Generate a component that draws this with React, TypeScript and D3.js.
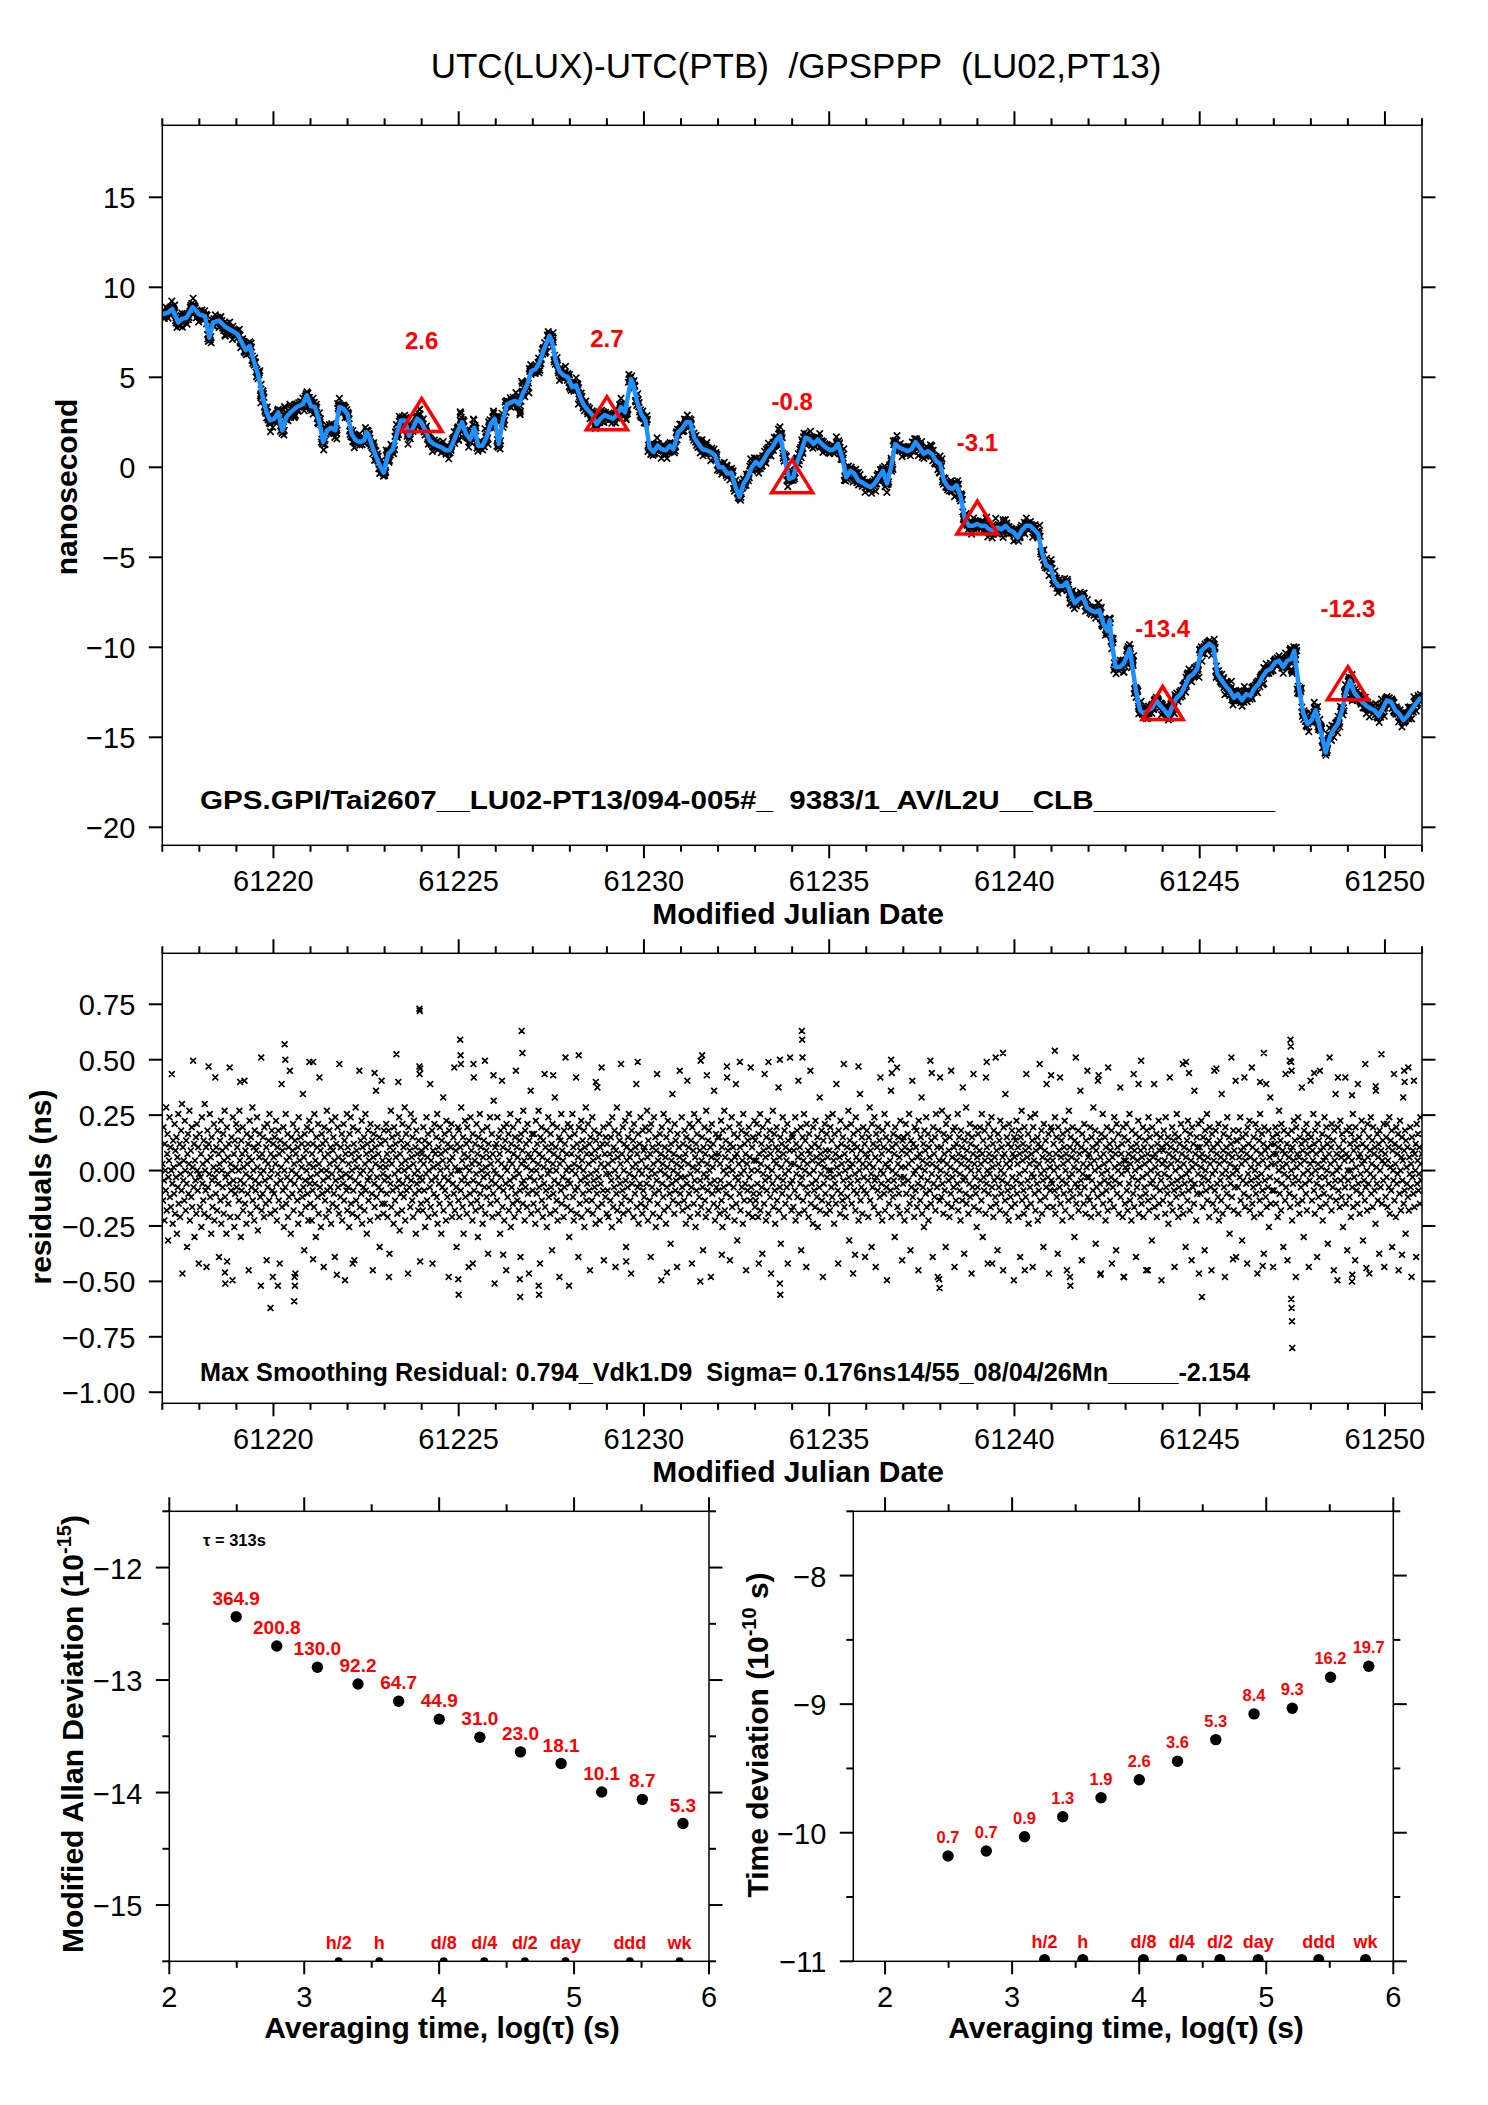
import { useMemo } from 'react';
import * as d3 from 'd3';

const FONT = '"Liberation Sans", Arial, Helvetica, sans-serif';
const MJD_START = 61217;
const MJD_END = 61251;

// smoothed offset: [days after MJD 61217, ns]
const SMOOTH: [number, number][] = [
  [0.00, 8.5], [0.16, 8.6], [0.27, 8.8], [0.43, 8.05], [0.54, 8.25], [0.65, 8.3], [0.82, 8.9], [0.99, 8.5],
  [1.15, 8.4], [1.27, 7.2], [1.37, 8.05], [1.53, 8.15], [1.70, 7.8], [1.87, 7.6], [2.03, 7.4], [2.14, 6.95],
  [2.25, 6.5], [2.36, 6.75], [2.47, 5.9], [2.58, 5.2], [2.69, 4.1], [2.80, 3.15], [2.91, 2.6], [3.02, 2.7],
  [3.13, 3.05], [3.24, 2.05], [3.35, 2.8], [3.46, 3.05], [3.63, 3.35], [3.79, 3.5], [3.90, 4.0], [4.01, 3.4],
  [4.12, 3.35], [4.23, 2.6], [4.34, 1.4], [4.45, 2.05], [4.56, 2.2], [4.67, 2.05], [4.78, 3.35], [4.89, 3.25],
  [5.00, 2.95], [5.11, 1.85], [5.22, 1.5], [5.33, 1.4], [5.45, 1.5], [5.51, 1.95], [5.56, 1.85], [5.66, 1.2],
  [5.78, 0.55], [5.89, 0.0], [5.98, -0.3], [6.10, 0.75], [6.22, 1.0], [6.33, 1.85], [6.44, 2.6], [6.55, 2.6],
  [6.66, 1.75], [6.77, 2.2], [6.88, 2.7], [6.99, 2.5], [7.10, 2.05], [7.21, 1.5], [7.32, 1.3], [7.43, 1.2],
  [7.54, 1.1], [7.65, 0.95], [7.76, 0.95], [7.87, 1.5], [7.98, 2.05], [8.09, 2.5], [8.20, 1.85], [8.31, 1.55],
  [8.42, 2.2], [8.53, 1.2], [8.64, 1.2], [8.75, 1.65], [8.86, 2.4], [8.97, 2.7], [9.08, 1.3], [9.19, 2.6],
  [9.30, 3.5], [9.41, 3.6], [9.52, 3.7], [9.63, 3.5], [9.74, 4.15], [9.85, 4.6], [9.96, 5.35], [10.07, 5.45],
  [10.18, 5.8], [10.29, 6.5], [10.45, 7.3], [10.51, 7.05], [10.62, 5.9], [10.73, 5.3], [10.84, 5.1], [10.95, 5.0],
  [11.06, 4.45], [11.17, 4.55], [11.28, 3.9], [11.39, 3.4], [11.50, 3.15], [11.61, 2.9], [11.72, 2.4], [11.83, 2.7],
  [11.94, 2.9], [12.05, 2.8], [12.16, 2.7], [12.27, 2.9], [12.38, 3.35], [12.49, 3.05], [12.65, 4.9], [12.71, 4.6],
  [12.82, 3.6], [12.93, 2.95], [13.04, 2.6], [13.15, 1.1], [13.26, 0.85], [13.37, 1.2], [13.48, 1.0], [13.59, 0.95],
  [13.70, 1.2], [13.80, 1.0], [13.92, 1.95], [14.03, 2.15], [14.14, 2.5], [14.25, 2.5], [14.36, 1.65], [14.47, 1.3],
  [14.58, 1.0], [14.69, 0.95], [14.80, 0.85], [14.92, 0.65], [15.02, 0.0], [15.13, 0.0], [15.25, -0.35], [15.36, -0.3],
  [15.47, -1.1], [15.58, -1.65], [15.69, -0.9], [15.80, -0.55], [15.91, 0.0], [16.02, 0.3], [16.13, 0.1], [16.24, 0.45],
  [16.35, 0.85], [16.46, 1.1], [16.57, 1.5], [16.68, 1.75], [16.79, 0.55], [16.92, -0.65], [17.03, -0.55], [17.14, 0.35],
  [17.25, 0.9], [17.36, 1.65], [17.47, 1.55], [17.58, 1.3], [17.69, 1.55], [17.80, 1.3], [17.91, 1.1], [18.02, 0.95],
  [18.13, 1.0], [18.24, 1.3], [18.35, 0.55], [18.46, -0.55], [18.57, -0.2], [18.68, -0.35], [18.79, -0.75], [18.90, -0.85],
  [19.01, -1.0], [19.12, -1.1], [19.23, -0.9], [19.34, -0.55], [19.45, -0.2], [19.56, -0.9], [19.67, 0.0], [19.78, 1.3],
  [19.89, 1.1], [20.00, 1.0], [20.11, 0.9], [20.22, 1.0], [20.33, 1.4], [20.44, 1.1], [20.55, 0.75], [20.66, 0.9],
  [20.77, 0.75], [20.88, 0.35], [20.99, 0.2], [21.10, -0.75], [21.21, -1.1], [21.33, -1.2], [21.44, -1.0], [21.55, -1.65],
  [21.66, -2.85], [21.77, -3.25], [21.88, -3.25], [21.99, -3.15], [22.10, -3.25], [22.21, -3.25], [22.32, -3.45], [22.43, -3.5],
  [22.54, -3.35], [22.65, -3.45], [22.76, -3.25], [22.87, -3.5], [22.98, -3.6], [23.09, -3.9], [23.20, -3.5], [23.31, -3.25],
  [23.42, -3.25], [23.53, -3.45], [23.64, -3.7], [23.75, -4.8], [23.86, -5.45], [23.97, -5.55], [24.08, -6.3], [24.19, -6.6],
  [24.30, -6.6], [24.41, -6.4], [24.52, -7.05], [24.63, -7.55], [24.74, -7.3], [24.85, -7.2], [24.96, -7.8], [25.07, -7.95],
  [25.18, -8.05], [25.29, -7.95], [25.40, -8.7], [25.51, -9.1], [25.57, -8.5], [25.62, -9.65], [25.73, -11.1], [25.84, -11.1],
  [25.95, -10.9], [26.11, -10.1], [26.17, -10.9], [26.28, -12.4], [26.39, -13.5], [26.50, -13.7], [26.61, -13.5], [26.72, -13.35],
  [26.83, -12.95], [26.94, -13.25], [27.05, -13.5], [27.16, -13.8], [27.27, -13.25], [27.38, -12.8], [27.49, -12.6], [27.60, -12.15],
  [27.71, -11.65], [27.82, -11.5], [27.93, -11.2], [28.04, -10.2], [28.15, -10.0], [28.26, -9.8], [28.37, -10.0], [28.48, -11.5],
  [28.60, -11.85], [28.70, -12.15], [28.81, -12.4], [28.92, -12.8], [29.03, -12.6], [29.14, -12.95], [29.25, -12.6], [29.37, -12.7],
  [29.47, -12.3], [29.59, -12.05], [29.69, -11.65], [29.81, -11.3], [29.92, -11.2], [30.03, -10.85], [30.14, -10.75], [30.25, -11.1],
  [30.36, -10.75], [30.47, -10.65], [30.55, -10.2], [30.69, -12.4], [30.80, -13.7], [30.91, -14.25], [31.02, -14.05], [31.13, -13.5],
  [31.24, -14.45], [31.35, -15.35], [31.40, -15.85], [31.51, -15.0], [31.62, -14.55], [31.73, -14.25], [31.84, -13.5], [31.95, -12.5],
  [32.06, -11.85], [32.17, -12.5], [32.28, -12.8], [32.39, -13.05], [32.50, -13.25], [32.61, -13.4], [32.72, -13.5], [32.83, -13.8],
  [32.94, -13.4], [33.05, -12.95], [33.17, -13.05], [33.28, -13.5], [33.39, -13.7], [33.50, -14.05], [33.61, -13.8], [33.71, -13.5],
  [33.83, -13.15], [33.94, -12.85], [34.00, -12.9],
];

// residuals, one line per day, evenly sampled; each code is residual / RESIDUAL_UNIT + 50
const RESIDUAL_UNIT = 0.015; // ns
const RESIDUAL_CODES = [
  '52 41 63 47 35 58 50 44 69 38 55 61 29 48 53 66 42 57 39 50 79 46 34 59 51 43 64 37 56 48 60 31 54 45 67 40 52 58 36 49 62 44 70 19 57 47 53 41 65 50 38 59 46 27 55 61 43 52 68 35 49 56 42 63 39 51 83 45 58 30 53 47 60 37 64 50 44 57 22 49',
  '61 39 48 55 33 66 46 52 41 59 37 70 50 44 57 21 53 62 45 36 58 49 67 42 54 31 60 47 39 56 51 64 35 48 78 43 57 50 38 62 46 55 24 52 59 41 65 34 50 56 45 61 37 53 68 42 48 57 31 63 49 54 40 58 46 81 36 52 44 60 50 17 66 47 55 33 59 43 51 64',
  '45 57 36 62 50 41 68 53 47 30 59 44 55 63 38 51 46 77 40 56 49 34 61 52 43 58 20 54 65 48 37 60 45 53 69 41 50 57 35 62 47 44 56 39 66 51 32 58 46 54 61 42 49 84 38 55 43 60 50 36 63 47 53 40 57 23 64 45 52 59 41 67 48 37 55 50 62 44 18 58',
  '54 43 60 38 52 65 46 35 57 49 62 41 55 22 59 47 51 76 39 56 44 63 33 50 58 45 67 40 53 48 61 36 57 42 54 80 47 31 60 50 43 56 64 38 52 46 59 19 55 49 62 41 57 34 66 48 53 44 60 37 51 58 42 73 45 54 26 61 47 39 56 50 63 43 58 35 52 65 46 40',
  '48 62 35 55 44 58 51 39 67 46 53 30 60 49 57 42 64 37 52 78 45 56 33 50 61 43 58 47 21 63 54 41 59 36 50 68 44 55 48 38 62 52 45 57 34 65 49 40 56 60 43 53 24 66 47 58 39 51 63 45 54 37 82 50 42 57 48 61 35 53 46 64 41 59 17 55 49 44 67 38',
  '57 45 52 33 61 48 66 40 55 50 37 63 44 58 23 53 47 69 41 56 51 36 62 46 54 80 39 49 59 43 65 34 57 50 45 60 38 52 67 44 55 31 58 47 62 41 53 48 35 64 50 56 43 59 20 54 61 46 39 57 52 74 42 48 63 36 55 45 60 27 51 58 44 77 40 53 49 37 62 47',
  '40 59 51 64 43 55 36 48 62 53 25 57 46 68 39 52 60 44 56 34 63 49 41 58 54 85 45 37 61 50 47 66 32 55 43 59 52 38 64 46 57 42 50 69 35 53 61 44 48 58 19 63 51 45 56 39 67 47 54 41 60 36 52 65 49 43 57 31 62 46 55 50 38 59 44 79 48 53 40 56',
  '55 47 38 63 52 44 59 33 57 49 66 41 54 61 36 50 58 45 76 39 53 47 62 22 56 51 43 64 37 55 48 60 42 67 34 52 57 46 40 63 50 55 31 59 45 53 72 38 48 61 44 56 35 65 51 42 58 47 18 62 53 40 57 49 64 36 54 46 60 43 81 38 51 56 45 27 58 50 63 41',
  '62 36 50 57 44 69 47 53 39 60 31 55 48 65 42 51 58 37 63 46 54 21 59 50 43 66 40 56 52 35 61 47 78 44 53 58 38 49 64 41 55 30 60 46 52 67 43 57 39 50 62 34 54 48 59 45 83 37 51 56 42 63 49 25 58 45 54 66 40 52 47 61 36 55 43 71 50 16 57 46',
  '49 58 41 66 53 37 60 45 55 31 62 48 52 77 39 57 44 63 35 51 59 46 20 64 50 42 56 61 38 53 47 67 33 58 45 52 40 63 55 48 36 60 43 80 50 57 41 54 65 38 49 59 44 24 61 52 46 56 40 68 47 53 35 62 45 58 51 39 64 43 55 19 59 48 54 74 37 50 61 44',
  '53 40 61 47 56 34 65 50 43 58 38 52 68 45 55 22 60 48 63 41 54 36 59 51 46 79 39 57 44 62 33 53 49 66 42 56 50 37 61 45 58 26 64 52 43 55 47 72 38 57 50 41 63 35 54 46 60 18 52 59 44 67 40 56 48 53 36 62 45 58 84 42 50 55 39 64 47 51 30 60',
  '46 63 38 55 50 67 42 57 35 52 61 44 49 78 37 58 45 54 24 63 51 40 56 47 65 36 53 59 43 50 62 33 57 48 69 41 55 46 38 64 52 44 58 20 60 49 55 41 66 37 53 47 62 45 56 34 59 50 43 75 39 54 48 61 35 57 46 52 81 40 58 44 63 23 51 55 42 60 49 37',
  '58 44 52 36 64 49 55 41 60 47 33 66 53 39 57 45 62 50 21 56 43 69 38 54 48 61 35 59 46 52 82 40 55 44 63 37 50 58 42 65 47 27 57 53 45 60 38 67 49 54 41 56 19 62 46 51 59 36 64 48 43 57 52 76 39 55 45 61 34 50 58 46 66 40 53 49 37 62 44 56',
  '42 57 63 39 51 46 68 54 35 59 48 62 41 55 24 64 50 45 57 37 52 66 43 49 60 33 56 47 79 40 53 58 44 36 61 50 55 17 63 46 52 42 67 38 57 49 54 34 60 45 51 65 39 56 48 43 62 28 58 53 46 73 41 50 55 37 64 44 59 47 52 21 61 49 40 57 54 80 43 48',
  '51 66 45 38 58 53 41 62 48 55 34 60 46 77 39 52 57 43 64 36 49 59 45 22 63 51 56 40 67 47 54 33 58 44 61 50 37 65 52 42 56 47 83 39 53 60 45 26 57 49 63 41 55 36 68 48 52 44 59 38 62 50 46 57 18 54 64 43 51 58 40 74 47 35 55 61 45 53 39 60',
  '44 55 60 37 52 47 65 41 57 33 62 50 45 68 38 54 59 43 49 78 36 56 51 46 63 23 58 42 53 66 39 50 57 45 61 35 54 48 76 40 55 29 60 47 52 64 43 57 38 49 62 45 53 34 67 50 41 58 46 55 20 61 52 44 59 37 63 48 54 41 81 45 50 57 36 60 43 53 65 39',
  '59 41 53 64 46 50 36 61 55 43 67 38 52 58 45 25 63 49 56 40 79 47 54 35 60 44 51 65 37 57 48 62 42 55 19 59 50 46 68 39 53 61 44 34 57 52 63 41 48 56 75 38 54 45 60 28 51 58 43 66 47 55 36 62 49 40 57 53 45 64 22 59 50 42 56 84 46 52 38 61',
  '47 60 39 56 52 44 66 35 58 49 62 42 54 77 37 51 57 46 63 26 55 48 60 41 53 67 38 50 59 45 21 64 52 43 56 36 61 49 55 80 40 57 46 53 34 63 50 44 58 39 65 47 54 42 60 33 52 57 45 72 38 55 49 62 41 53 18 59 46 51 64 43 56 37 61 48 54 66 40 50',
  '56 38 63 50 45 59 42 67 48 53 34 61 46 55 40 76 51 57 44 22 62 49 54 37 65 43 58 52 41 60 47 82 39 55 50 36 63 45 57 42 53 68 48 29 59 51 46 64 40 56 52 19 61 44 58 49 38 66 54 43 57 47 62 35 53 50 73 41 56 45 60 37 52 63 48 44 58 24 55 51',
  '43 62 54 47 36 60 52 69 41 56 49 27 64 45 58 51 39 66 47 54 21 61 48 57 44 63 37 53 59 42 78 50 46 55 35 62 49 57 43 67 38 52 60 45 17 64 51 47 56 40 59 53 44 74 36 57 50 42 61 47 55 30 63 49 58 45 81 39 52 60 43 54 37 65 48 51 56 23 59 46',
  '60 48 35 57 51 64 43 55 38 61 47 52 67 40 56 26 59 45 53 77 42 58 49 36 63 50 44 57 62 39 54 46 20 65 51 55 41 60 48 72 37 53 45 58 33 62 50 56 43 66 39 52 47 61 35 57 54 44 83 40 59 49 52 24 63 46 55 42 60 38 67 51 45 57 18 62 48 53 41 78',
  '50 57 42 68 46 53 37 61 55 44 59 27 64 49 52 40 66 47 56 36 60 51 43 80 39 54 48 62 45 57 21 63 50 41 58 53 46 67 38 55 60 44 49 35 62 52 57 41 75 47 54 25 59 48 43 69 40 56 51 61 37 53 46 64 42 58 50 19 60 45 55 79 39 52 48 63 43 57 33 54',
  '45 61 50 38 56 63 47 52 41 67 55 30 59 48 44 62 53 37 78 46 57 50 22 64 43 55 49 60 39 53 66 45 51 58 36 62 47 54 42 84 40 56 48 26 61 52 45 59 38 65 50 43 57 47 54 20 63 49 55 41 73 37 52 60 46 44 58 35 64 51 53 42 57 39 62 48 55 45 17 60',
  '54 40 59 47 65 43 52 57 36 62 49 55 24 60 46 68 41 53 58 44 37 63 50 56 42 79 39 54 47 61 34 57 52 45 66 40 55 49 59 21 63 48 53 43 67 38 56 51 46 60 35 58 44 52 82 41 57 49 62 37 54 47 27 64 50 56 42 59 45 76 39 53 48 61 19 55 51 44 63 47',
  '62 46 53 39 58 50 44 66 37 55 60 42 51 25 63 48 56 45 78 40 54 59 47 35 61 52 43 57 65 38 50 55 46 20 62 53 41 68 48 57 44 60 36 54 49 63 42 56 51 30 59 46 84 40 53 58 45 62 38 50 55 43 74 47 57 23 61 49 52 40 64 45 56 37 59 51 48 80 42 54',
  '48 55 41 63 52 36 60 47 57 44 69 39 53 50 62 28 56 45 58 42 77 37 51 59 46 54 19 61 49 43 67 40 55 52 47 60 35 57 44 63 50 38 81 46 53 58 41 56 48 62 22 54 45 59 39 66 51 47 55 26 64 43 57 50 61 37 52 46 75 42 55 49 58 36 63 18 53 60 40 51',
  '53 64 44 50 38 59 55 46 67 41 52 57 35 62 48 54 43 79 39 56 50 61 24 58 45 53 47 65 37 60 51 42 56 83 40 54 48 63 36 57 45 52 59 43 20 62 49 55 41 66 38 53 60 46 50 57 29 63 47 54 42 76 39 55 51 45 61 36 58 49 53 65 40 56 44 60 47 17 57 52',
  '41 56 62 49 53 37 66 45 58 51 43 60 34 55 48 78 40 57 52 46 63 38 54 59 44 21 61 50 56 42 67 47 53 36 60 45 58 51 39 64 48 55 43 82 37 52 57 46 62 27 54 49 59 41 65 44 50 56 38 61 47 53 23 63 51 45 58 40 74 46 55 52 35 60 43 57 49 64 19 54',
  '57 43 51 65 46 55 39 60 48 53 26 62 50 44 58 67 41 54 47 59 36 63 52 45 56 20 61 49 40 57 53 80 44 50 62 38 55 46 58 42 64 35 52 59 47 54 41 73 49 37 56 61 45 53 18 63 50 57 43 66 39 55 48 60 31 52 46 58 84 42 54 49 62 38 56 45 51 77 24 59',
  '50 59 45 37 62 54 48 66 41 56 52 29 60 47 57 43 78 39 53 61 46 55 22 63 49 58 42 65 38 54 51 47 81 40 57 45 60 36 53 50 64 43 56 48 19 62 52 46 59 41 67 37 55 49 61 44 53 58 25 63 47 56 42 76 39 51 57 45 62 33 54 48 72 40 58 52 44 60 21 55',
  '44 58 52 63 40 55 47 61 36 57 50 68 43 53 59 38 64 46 51 56 27 62 49 55 41 79 45 52 58 23 61 48 54 43 83 39 56 50 62 35 57 46 53 65 42 59 48 18 63 51 55 40 66 47 54 37 60 52 45 58 75 41 56 49 30 62 53 46 59 43 64 38 55 50 61 21 57 47 52 77',
  '60 49 41 56 53 67 44 58 37 62 50 55 46 24 64 52 42 59 48 80 39 56 51 45 61 35 57 53 43 66 48 54 40 63 50 58 28 60 46 55 84 42 52 57 38 64 49 45 59 20 62 53 47 73 41 55 50 17 63 44 57 51 39 65 47 54 42 61 56 33 59 48 53 45 78 40 55 62 26 50',
  '47 54 63 42 58 50 36 61 53 45 67 39 56 48 59 23 63 51 44 57 40 76 46 54 60 37 55 49 43 65 52 58 29 62 47 53 41 82 45 57 50 38 64 54 46 60 19 56 49 66 43 52 59 39 63 48 55 44 57 34 74 51 46 61 41 54 58 25 62 50 45 56 85 40 53 59 47 64 21 52',
  '55 42 60 48 64 39 53 57 45 66 37 51 59 44 62 27 56 50 47 79 41 58 52 36 63 46 55 49 61 20 57 43 65 50 38 54 60 47 53 72 40 56 44 62 31 59 51 46 57 42 81 38 54 49 63 45 52 18 60 48 56 43 77 39 55 50 58 24 64 46 53 61 44 49 57 40 66 52 47 55',
];

// isolated large residuals: [MJD, ns]
const RESIDUAL_OUTLIERS: [number, number][] = [
  [61218.25, 0.47], [61219.10, 0.40], [61220.30, 0.57], [61220.32, 0.50], [61220.97, 0.49], [61221.07, 0.49],
  [61222.73, 0.44], [61223.37, 0.40], [61223.94, 0.73], [61223.95, 0.72], [61223.94, 0.47], [61223.96, 0.46],
  [61225.04, 0.59], [61225.05, 0.52], [61225.06, 0.48], [61225.40, 0.48], [61225.94, 0.43], [61226.70, 0.63],
  [61226.72, 0.53], [61227.55, 0.43], [61228.24, 0.52], [61228.70, 0.40], [61229.83, 0.49], [61231.57, 0.52],
  [61231.70, 0.43], [61232.24, 0.47], [61232.59, 0.49], [61233.36, 0.49], [61233.67, 0.50], [61234.26, 0.63],
  [61234.27, 0.59], [61234.28, 0.51], [61235.79, 0.47], [61236.67, 0.50], [61236.69, 0.44], [61237.77, 0.44],
  [61239.25, 0.49], [61239.69, 0.53], [61240.99, 0.43], [61241.09, 0.54], [61242.27, 0.43], [61243.35, 0.39],
  [61244.63, 0.49], [61244.71, 0.44], [61245.45, 0.46], [61246.63, 0.40], [61246.73, 0.53], [61247.45, 0.59],
  [61247.46, 0.56], [61247.47, 0.49], [61247.48, 0.45], [61248.09, 0.44], [61248.73, 0.42], [61249.11, 0.34],
  [61249.75, 0.38], [61250.52, 0.45], [61250.53, 0.40],
  [61218.69, -0.46], [61218.70, -0.51], [61218.75, -0.41], [61219.66, -0.52], [61219.92, -0.62], [61220.12, -0.52],
  [61220.56, -0.59], [61220.57, -0.48], [61220.58, -0.52], [61221.07, -0.40], [61221.71, -0.47], [61222.14, -0.42],
  [61223.12, -0.48], [61223.96, -0.41], [61224.99, -0.49], [61225.00, -0.56], [61225.38, -0.42], [61226.20, -0.38],
  [61226.65, -0.49], [61226.66, -0.57], [61227.16, -0.52], [61227.17, -0.56], [61227.98, -0.52], [61229.52, -0.41],
  [61230.62, -0.46], [61231.52, -0.50], [61232.10, -0.38], [61233.10, -0.42], [61233.67, -0.51], [61233.68, -0.56],
  [61235.70, -0.38], [61237.97, -0.49], [61237.98, -0.53], [61239.40, -0.42], [61240.28, -0.45], [61241.50, -0.48],
  [61241.51, -0.52], [61242.32, -0.47], [61242.96, -0.48], [61243.60, -0.45], [61245.06, -0.57], [61245.90, -0.40],
  [61246.70, -0.43], [61247.47, -0.58], [61247.48, -0.62], [61247.49, -0.68], [61247.50, -0.80], [61249.11, -0.50],
  [61249.12, -0.47], [61249.50, -0.44], [61250.46, -0.38],
];

const TRIANGLE_MJD = [61224, 61229, 61234, 61239, 61244, 61249];
const TRIANGLE_NS = [2.6, 2.7, -0.8, -3.1, -13.4, -12.3];

const TAU_S = [313, 626, 1252, 2504, 5008, 10016, 20032, 40064, 80128, 160256, 320512, 641024];
const MDEV_E15 = [364.9, 200.8, 130.0, 92.2, 64.7, 44.9, 31.0, 23.0, 18.1, 10.1, 8.7, 5.3];
const TDEV_E10 = [0.66, 0.72, 0.93, 1.33, 1.87, 2.58, 3.6, 5.3, 8.4, 9.3, 16.2, 19.7];

const MARK_S = [1800, 3600, 10800, 21600, 43200, 86400, 259200, 604800];
const MARK_LABELS = ['h/2', 'h', 'd/8', 'd/4', 'd/2', 'day', 'ddd', 'wk'];

const TITLE = 'UTC(LUX)-UTC(PTB)  /GPSPPP  (LU02,PT13)';
const NOTE_TOP = 'GPS.GPI/Tai2607__LU02-PT13/094-005#_  9383/1_AV/L2U__CLB___________';
const NOTE_RES = 'Max Smoothing Residual: 0.794_Vdk1.D9  Sigma= 0.176ns14/55_08/04/26Mn_____-2.154';

const minus = (s: string) => s.replace('-', '\u2212');

type Scale = d3.ScaleLinear<number, number>;

function crosses(points: [number, number][], xs: Scale, ys: Scale, s: number) {
  let d = '';
  for (const [a, b] of points) {
    const x = xs(a), y = ys(b);
    d += `M${(x - s).toFixed(1)} ${(y - s).toFixed(1)}L${(x + s).toFixed(1)} ${(y + s).toFixed(1)}M${(x - s).toFixed(1)} ${(y + s).toFixed(1)}L${(x + s).toFixed(1)} ${(y - s).toFixed(1)}`;
  }
  return d;
}

function Frame({ xs, ys, xTicks, yTicks, xMajor, yMajor }: {
  xs: Scale; ys: Scale; xTicks: number[]; yTicks: number[];
  xMajor: (v: number) => boolean; yMajor: (v: number) => boolean;
}) {
  const [x0, x1] = xs.range();
  const [y1, y0] = ys.range();
  return (
    <g stroke="#000" fill="none">
      <rect x={x0} y={y0} width={x1 - x0} height={y1 - y0} strokeWidth={1.5} />
      <g strokeWidth={2}>
        {xTicks.map((v) => {
          const x = xs(v);
          const m = xMajor(v);
          return (
            <g key={'x' + v}>
              <line x1={x} x2={x} y1={y0} y2={y0 - (m ? 14 : 7)} />
              <line x1={x} x2={x} y1={y1} y2={y1 + (m ? 13 : 6.5)} />
            </g>
          );
        })}
        {yTicks.map((v) => {
          const y = ys(v);
          const m = yMajor(v);
          return (
            <g key={'y' + v}>
              <line x1={x0} x2={x0 - (m ? 13.5 : 7)} y1={y} y2={y} />
              <line x1={x1} x2={x1 + (m ? 13.5 : 7)} y1={y} y2={y} />
            </g>
          );
        })}
      </g>
    </g>
  );
}

function TickLabels({ xs, ys, xVals, yVals, xFmt, yFmt }: {
  xs: Scale; ys: Scale; xVals: number[]; yVals: number[];
  xFmt: (v: number) => string; yFmt: (v: number) => string;
}) {
  const [x0] = xs.range();
  const [y1] = ys.range();
  return (
    <g fontFamily={FONT} fontSize={29} fill="#000">
      {xVals.map((v) => (
        <text key={'x' + v} x={xs(v)} y={y1 + 46} textAnchor="middle">{xFmt(v)}</text>
      ))}
      {yVals.map((v) => (
        <text key={'y' + v} x={x0 - 27} y={ys(v) + 11} textAnchor="end">{yFmt(v)}</text>
      ))}
    </g>
  );
}

export default function App() {
  const xTime = d3.scaleLinear().domain([MJD_START, MJD_END]).range([162.3, 1422]);
  const yTop = d3.scaleLinear().domain([-21, 19]).range([845.3, 125.3]);
  const yRes = d3.scaleLinear().domain([-1.05, 0.98]).range([1403.3, 953.3]);
  const xMdev = d3.scaleLinear().domain([2, 6]).range([169.3, 709]);
  const yMdev = d3.scaleLinear().domain([-15.5, -11.5]).range([1961.3, 1511.3]);
  const xTdev = d3.scaleLinear().domain([1.75, 6]).range([853.3, 1393.3]);
  const yTdev = d3.scaleLinear().domain([-11, -7.5]).range([1961.3, 1511.3]);

  const residuals = useMemo(() => {
    const codes = RESIDUAL_CODES.join(' ').trim().split(/\s+/).map(Number);
    const step = (MJD_END - MJD_START) / codes.length;
    const pts = codes.map((c, i) => [MJD_START + (i + 0.5) * step, (c - 50) * RESIDUAL_UNIT] as [number, number]);
    return pts.concat(RESIDUAL_OUTLIERS);
  }, []);

  const raw = useMemo(() => {
    const times = SMOOTH.map((d) => MJD_START + d[0]);
    const nearest = d3.bisector((d: number) => d).center;
    return residuals.map(([t, r]) => [t, SMOOTH[nearest(times, t)][1] + r] as [number, number]);
  }, [residuals]);

  const smoothPath = d3.line<[number, number]>()
    .x((d) => xTime(MJD_START + d[0]))
    .y((d) => yTop(d[1]))(SMOOTH) ?? '';

  const days = d3.range(MJD_START, MJD_END + 1);
  const dayMajor = (v: number) => v % 5 === 0;
  const labelDays = days.filter(dayMajor);
  const halfSteps = (a: number, b: number) => d3.range(Math.round(a * 2), Math.round(b * 2) + 1).map((i) => i / 2);
  const isInt = (v: number) => Number.isInteger(v);

  const triangle = (cx: number, cy: number) =>
    `M${cx} ${cy - 22}L${cx + 20.5} ${cy + 11}L${cx - 20.5} ${cy + 11}Z`;

  return (
    <div>
      <style>{'html,body{margin:0;padding:0;background:#fff}'}</style>
      <svg width={1488} height={2105} viewBox="0 0 1488 2105" style={{ display: 'block', background: '#fff' }}>
        <defs>
          <clipPath id="clip-top"><rect x={162.3} y={125.3} width={1259.7} height={720} /></clipPath>
          <clipPath id="clip-res"><rect x={162.3} y={953.3} width={1259.7} height={450} /></clipPath>
          <clipPath id="clip-mdev"><rect x={169.3} y={1511.3} width={539.7} height={450} /></clipPath>
          <clipPath id="clip-tdev"><rect x={853.3} y={1511.3} width={540} height={450} /></clipPath>
        </defs>

        <text x={796} y={78} textAnchor="middle" fontFamily={FONT} fontSize={35} style={{ whiteSpace: 'pre' }}>{TITLE}</text>

        {/* top: offset series */}
        <g clipPath="url(#clip-top)">
          <path d={crosses(raw, xTime, yTop, 3.2)} stroke="#000" strokeWidth={1.7} fill="none" />
          <path d={smoothPath} stroke="#1E90FF" strokeWidth={4.5} fill="none" strokeLinejoin="round" />
          {TRIANGLE_MJD.map((m, i) => (
            <path key={m} d={triangle(xTime(m), yTop(TRIANGLE_NS[i]))} stroke="#FF0000" strokeWidth={3.5} fill="none" />
          ))}
        </g>
        <g fontFamily={FONT} fontWeight="bold" fontSize={24} fill="#FF0000" textAnchor="middle">
          {TRIANGLE_MJD.map((m, i) => (
            <text key={m} x={xTime(m)} y={yTop(TRIANGLE_NS[i] + 4)}>{TRIANGLE_NS[i].toFixed(1)}</text>
          ))}
        </g>
        <Frame xs={xTime} ys={yTop} xTicks={days} yTicks={d3.range(-20, 16, 5)} xMajor={dayMajor} yMajor={() => true} />
        <TickLabels xs={xTime} ys={yTop} xVals={labelDays} yVals={d3.range(-20, 16, 5)}
          xFmt={(v) => String(v)} yFmt={(v) => minus(String(v))} />
        <text x={200} y={809} fontFamily={FONT} fontWeight="bold" fontSize={26.5} textLength={1075}
          lengthAdjust="spacingAndGlyphs" style={{ whiteSpace: 'pre' }}>{NOTE_TOP}</text>
        <text x={798} y={924} textAnchor="middle" fontFamily={FONT} fontWeight="bold" fontSize={30}>Modified Julian Date</text>
        <text transform="translate(77,487) rotate(-90)" textAnchor="middle" fontFamily={FONT} fontWeight="bold" fontSize={30}>nanosecond</text>

        {/* residuals */}
        <g clipPath="url(#clip-res)">
          <path d={crosses(residuals, xTime, yRes, 2.9)} stroke="#000" strokeWidth={1.7} fill="none" />
        </g>
        <Frame xs={xTime} ys={yRes} xTicks={days} yTicks={d3.range(-4, 4).map((i) => i * 0.25)} xMajor={dayMajor} yMajor={() => true} />
        <TickLabels xs={xTime} ys={yRes} xVals={labelDays} yVals={d3.range(-4, 4).map((i) => i * 0.25)}
          xFmt={(v) => String(v)} yFmt={(v) => minus(v.toFixed(2))} />
        <text x={200} y={1381} fontFamily={FONT} fontWeight="bold" fontSize={25.5} textLength={1050}
          lengthAdjust="spacingAndGlyphs" style={{ whiteSpace: 'pre' }}>{NOTE_RES}</text>
        <text x={798} y={1482} textAnchor="middle" fontFamily={FONT} fontWeight="bold" fontSize={30}>Modified Julian Date</text>
        <text transform="translate(51,1187) rotate(-90)" textAnchor="middle" fontFamily={FONT} fontWeight="bold" fontSize={30}>residuals (ns)</text>

        {/* modified Allan deviation */}
        <g clipPath="url(#clip-mdev)">
          {MARK_S.map((s) => (
            <circle key={s} cx={xMdev(Math.log10(s))} cy={1961.3} r={4} fill="#000" />
          ))}
        </g>
        {TAU_S.map((t, i) => (
          <circle key={t} cx={xMdev(Math.log10(t))} cy={yMdev(Math.log10(MDEV_E15[i]) - 15)} r={5.7} fill="#000" />
        ))}
        <g fontFamily={FONT} fontWeight="bold" fill="#FF0000" textAnchor="middle">
          {TAU_S.map((t, i) => (
            <text key={t} x={xMdev(Math.log10(t))} y={yMdev(Math.log10(MDEV_E15[i]) - 15) - 12} fontSize={19}>
              {MDEV_E15[i].toFixed(1)}
            </text>
          ))}
          {MARK_S.map((s, i) => (
            <text key={s} x={xMdev(Math.log10(s))} y={1949} fontSize={18}>{MARK_LABELS[i]}</text>
          ))}
        </g>
        <Frame xs={xMdev} ys={yMdev} xTicks={halfSteps(2, 6)} yTicks={halfSteps(-15.5, -11.5)} xMajor={isInt} yMajor={isInt} />
        <TickLabels xs={xMdev} ys={yMdev} xVals={[2, 3, 4, 5, 6]} yVals={[-15, -14, -13, -12]}
          xFmt={(v) => String(v)} yFmt={(v) => minus(String(v))} />
        <text x={203} y={1546} fontFamily={FONT} fontWeight="bold" fontSize={16.5}>τ = 313s</text>
        <text x={442} y={2038} textAnchor="middle" fontFamily={FONT} fontWeight="bold" fontSize={30}>Averaging time, log(τ) (s)</text>
        <text transform="translate(83,1734) rotate(-90)" textAnchor="middle" fontFamily={FONT} fontWeight="bold" fontSize={30}>
          Modified Allan Deviation (10<tspan fontSize={20} dy={-12}>-15</tspan><tspan dy={12}>)</tspan>
        </text>

        {/* time deviation */}
        <g clipPath="url(#clip-tdev)">
          {MARK_S.map((s) => (
            <circle key={s} cx={xTdev(Math.log10(s))} cy={1959.5} r={5.5} fill="#000" />
          ))}
        </g>
        {TAU_S.map((t, i) => (
          <circle key={t} cx={xTdev(Math.log10(t))} cy={yTdev(Math.log10(TDEV_E10[i]) - 10)} r={5.7} fill="#000" />
        ))}
        <g fontFamily={FONT} fontWeight="bold" fill="#FF0000" textAnchor="middle">
          {TAU_S.map((t, i) => (
            <text key={t} x={xTdev(Math.log10(t))} y={yTdev(Math.log10(TDEV_E10[i]) - 10) - 13} fontSize={16.5}>
              {TDEV_E10[i].toFixed(1)}
            </text>
          ))}
          {MARK_S.map((s, i) => (
            <text key={s} x={xTdev(Math.log10(s))} y={1948} fontSize={18}>{MARK_LABELS[i]}</text>
          ))}
        </g>
        <Frame xs={xTdev} ys={yTdev} xTicks={halfSteps(2, 6)} yTicks={halfSteps(-11, -7.5)} xMajor={isInt} yMajor={isInt} />
        <TickLabels xs={xTdev} ys={yTdev} xVals={[2, 3, 4, 5, 6]} yVals={[-11, -10, -9, -8]}
          xFmt={(v) => String(v)} yFmt={(v) => minus(String(v))} />
        <text x={1126} y={2038} textAnchor="middle" fontFamily={FONT} fontWeight="bold" fontSize={30}>Averaging time, log(τ) (s)</text>
        <text transform="translate(768,1735) rotate(-90)" textAnchor="middle" fontFamily={FONT} fontWeight="bold" fontSize={30}>
          Time deviation (10<tspan fontSize={20} dy={-12}>-10</tspan><tspan dy={12}> s)</tspan>
        </text>
      </svg>
    </div>
  );
}
